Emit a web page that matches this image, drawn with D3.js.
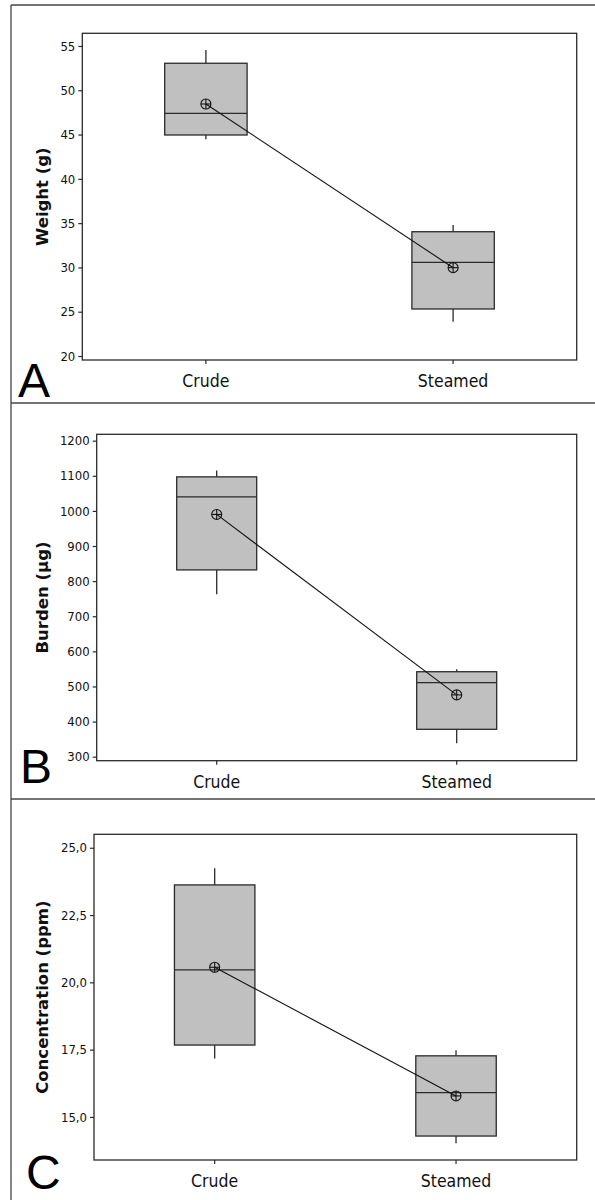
<!DOCTYPE html>
<html>
<head>
<meta charset="utf-8">
<script src="https://cdn.jsdelivr.net/npm/d3@7"></script>
<style>
  body { margin: 0; background: #fff; }
  svg { display: block; }
  .tick text { font-family: "DejaVu Sans Condensed", "DejaVu Sans", sans-serif; font-stretch: condensed; fill: #111; }
</style>
</head>
<body>
<svg id="chart" width="595" height="1200"></svg>
<script>
// ---- data ----
const categories = ["Crude", "Steamed"];
// [lower whisker, Q1, median, Q3, upper whisker]
const weightBox = [[44.47, 44.95, 47.40, 53.05, 54.55], [23.87, 25.31, 30.58, 34.03, 34.79]];
const weightMean = [48.45, 29.97];
const weightTicks = [20, 25, 30, 35, 40, 45, 50, 55];

const burdenBox = [[763, 832, 1040, 1097, 1115], [338, 378, 511, 542, 549]];
const burdenMean = [990, 476];
const burdenTicks = [300, 400, 500, 600, 700, 800, 900, 1000, 1100, 1200];

const concBox = [[17.17, 17.67, 20.46, 23.62, 24.24], [14.02, 14.29, 15.90, 17.27, 17.48]];
const concMean = [20.56, 15.78];
const concTicks = [15, 17.5, 20, 22.5, 25];

const panelLetters = ["A", "B", "C"];
const axisTitles = ["Weight (g)", "Burden (\u00b5g)", "Concentration (ppm)"];

// ---- layout ----
const svg = d3.select("#chart");
const frameColor = "#444";
const darkStroke = "#2a2a2a";
const boxFill = "#c0c0c0";

const commaFmt = d => d3.format(".1f")(d).replace(".", ",");

const panels = [
  { box: weightBox, mean: weightMean, ticks: weightTicks, fmt: d => d, domain: [19.55, 56.43],
    left: 82.3, top: 33.3, bottom: 360, letterX: 18, letterY: 397 },
  { box: burdenBox, mean: burdenMean, ticks: burdenTicks, fmt: d => d, domain: [288.6, 1218.2],
    left: 96.7, top: 434.3, bottom: 760.7, letterX: 20, letterY: 783 },
  { box: concBox, mean: concMean, ticks: concTicks, fmt: commaFmt, domain: [13.4, 25.5],
    left: 94, top: 834.3, bottom: 1160, letterX: 26, letterY: 1189 }
];
const plotRight = 576.7;
const titleX = 48;

// outer frame and separators
const frame = svg.append("g").attr("stroke", frameColor).attr("stroke-width", 1.3).attr("fill", "none");
frame.append("line").attr("x1", 11).attr("x2", 11).attr("y1", 5).attr("y2", 1200);
[5, 403, 799].forEach(yv => frame.append("line").attr("x1", 11).attr("x2", 595).attr("y1", yv).attr("y2", yv));

panels.forEach((p, i) => {
  const g = svg.append("g");
  const x = d3.scaleBand().domain(categories).range([p.left, plotRight]).padding(0);
  const y = d3.scaleLinear().domain(p.domain).range([p.bottom, p.top]);
  const bw = x.bandwidth() / 3;
  const cx = c => x(c) + x.bandwidth() / 2;

  // plot frame
  g.append("rect")
    .attr("x", p.left).attr("y", p.top)
    .attr("width", plotRight - p.left).attr("height", p.bottom - p.top)
    .attr("fill", "none").attr("stroke", darkStroke).attr("stroke-width", 1.3);

  // y axis
  const ya = g.append("g")
    .attr("transform", `translate(${p.left},0)`)
    .call(d3.axisLeft(y).tickValues(p.ticks).tickSize(4).tickPadding(3).tickFormat(p.fmt));
  ya.select(".domain").remove();
  ya.selectAll(".tick line").attr("stroke", darkStroke).attr("stroke-width", 1.2);
  ya.selectAll(".tick text").attr("font-size", 13);

  // x axis
  const xa = g.append("g")
    .attr("transform", `translate(0,${p.bottom})`)
    .call(d3.axisBottom(x).tickSize(4).tickPadding(11));
  xa.select(".domain").remove();
  xa.selectAll(".tick line").attr("stroke", darkStroke).attr("stroke-width", 1.2);
  xa.selectAll(".tick text").attr("font-size", 17.5);

  // axis title
  g.append("text")
    .attr("transform", `translate(${titleX},${(p.top + p.bottom) / 2}) rotate(-90)`)
    .attr("text-anchor", "middle")
    .attr("font-family", "'DejaVu Sans', sans-serif")
    .attr("font-weight", "bold")
    .attr("font-size", 16.5)
    .attr("fill", "#111")
    .text(axisTitles[i]);

  // boxes
  const rows = categories.map((c, k) => ({ c, s: p.box[k], m: p.mean[k] }));
  const bx = g.selectAll(".bx").data(rows).enter().append("g");
  bx.append("line")
    .attr("x1", d => cx(d.c)).attr("x2", d => cx(d.c))
    .attr("y1", d => y(d.s[3])).attr("y2", d => y(d.s[4]))
    .attr("stroke", darkStroke).attr("stroke-width", 1.3);
  bx.append("line")
    .attr("x1", d => cx(d.c)).attr("x2", d => cx(d.c))
    .attr("y1", d => y(d.s[1])).attr("y2", d => y(d.s[0]))
    .attr("stroke", darkStroke).attr("stroke-width", 1.3);
  bx.append("rect")
    .attr("x", d => cx(d.c) - bw / 2).attr("width", bw)
    .attr("y", d => y(d.s[3])).attr("height", d => y(d.s[1]) - y(d.s[3]))
    .attr("fill", boxFill).attr("stroke", darkStroke).attr("stroke-width", 1.3);
  bx.append("line")
    .attr("x1", d => cx(d.c) - bw / 2).attr("x2", d => cx(d.c) + bw / 2)
    .attr("y1", d => y(d.s[2])).attr("y2", d => y(d.s[2]))
    .attr("stroke", darkStroke).attr("stroke-width", 1.3);

  // mean connect line
  g.append("path")
    .datum(rows)
    .attr("d", d3.line().x(d => cx(d.c)).y(d => y(d.m)))
    .attr("fill", "none").attr("stroke", "#111").attr("stroke-width", 1.1);

  // mean symbols
  const ms = g.selectAll(".ms").data(rows).enter().append("g")
    .attr("transform", d => `translate(${cx(d.c)},${y(d.m)})`)
    .attr("stroke", "#111").attr("stroke-width", 1.1).attr("fill", "none");
  ms.append("circle").attr("r", 5);
  ms.append("line").attr("x1", -5).attr("x2", 5);
  ms.append("line").attr("y1", -5).attr("y2", 5);

  // panel letter
  svg.append("text")
    .attr("x", p.letterX).attr("y", p.letterY)
    .attr("font-family", "'Liberation Sans', Arial, sans-serif")
    .attr("font-size", 48)
    .attr("fill", "#000")
    .text(panelLetters[i]);
});
</script>
</body>
</html>
